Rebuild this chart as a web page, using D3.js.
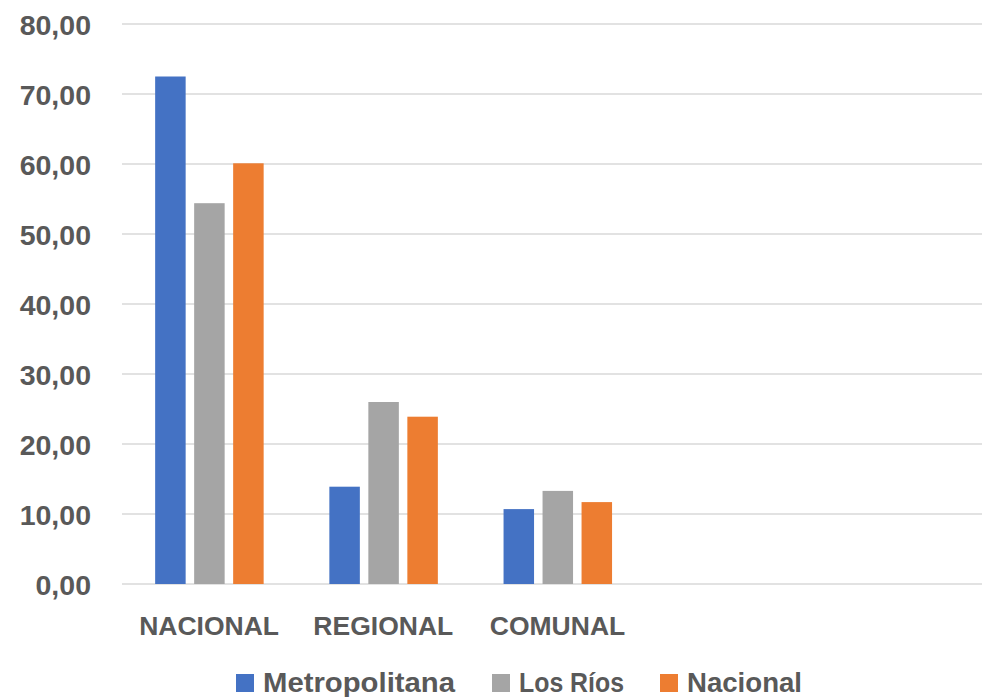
<!DOCTYPE html>
<html><head><meta charset="utf-8">
<script src="https://cdn.jsdelivr.net/npm/d3@7"></script>
<style>html,body{margin:0;padding:0;background:#fff;overflow:hidden}</style>
</head><body>
<svg id="chart" width="982" height="697"></svg>
<script>
const categories = ["NACIONAL", "REGIONAL", "COMUNAL", "", " "];
const seriesNames = ["Metropolitana", "Los Ríos", "Nacional"];
const metropolitana = [72.5, 13.9, 10.7];
const losRios = [54.4, 26.0, 13.3];
const nacional = [60.1, 23.9, 11.7];
const yTicks = [0, 10, 20, 30, 40, 50, 60, 70, 80];
const colors = ["#4472C4", "#A5A5A5", "#ED7D31"];

const values = [metropolitana, losRios, nacional];
const svg = d3.select("#chart");
const fontFam = "'Liberation Sans', Arial, sans-serif";
const textColor = "#595959";

const x = d3.scaleBand().domain(categories).range([122, 993]).paddingInner(0).paddingOuter(0);
const y = d3.scaleLinear().domain([0, 80]).range([584, 24]);
const groupW = 108.5;
const xs = d3.scaleBand().domain(seriesNames).range([0, groupW]).paddingInner(0.218).paddingOuter(0);

// gridlines
svg.append("g").selectAll("line").data(yTicks).join("line")
  .attr("x1", 122).attr("x2", 982)
  .attr("y1", d => y(d)).attr("y2", d => y(d))
  .attr("stroke", "#d9d9d9").attr("stroke-width", 1.5);

// y labels
svg.append("g").selectAll("text").data(yTicks).join("text")
  .attr("x", 91).attr("y", d => y(d) + 10.5)
  .attr("text-anchor", "end")
  .attr("font-family", fontFam).attr("font-weight", "bold").attr("font-size", 28.5)
  .attr("fill", textColor)
  .text(d => d3.format(".2f")(d).replace(".", ","));

// bars
const groupOffset = (x.bandwidth() - groupW) / 2 + 0.3;
seriesNames.forEach((s, i) => {
  svg.append("g").selectAll("rect").data(values[i]).join("rect")
    .attr("x", (d, j) => x(categories[j]) + groupOffset + xs(s))
    .attr("width", xs.bandwidth())
    .attr("y", d => y(d))
    .attr("height", d => y(0) - y(d))
    .attr("fill", colors[i]);
});

// category labels
svg.append("g").selectAll("text").data(categories.slice(0, 3)).join("text")
  .attr("x", d => x(d) + x.bandwidth() / 2)
  .attr("y", 635)
  .attr("text-anchor", "middle")
  .attr("font-family", fontFam).attr("font-weight", "bold").attr("font-size", 26.5)
  .attr("fill", textColor)
  .text(d => d);

// legend
const legendX = [236, 492, 660];
const legendW = [192, 105, 115];
const lg = svg.append("g");
seriesNames.forEach((s, i) => {
  lg.append("rect").attr("x", legendX[i]).attr("y", 674).attr("width", 18).attr("height", 18).attr("fill", colors[i]);
  lg.append("text").attr("x", legendX[i] + 27).attr("y", 692)
    .attr("font-family", fontFam).attr("font-weight", "bold").attr("font-size", 28)
    .attr("textLength", legendW[i]).attr("lengthAdjust", "spacingAndGlyphs")
    .attr("fill", textColor).text(s);
});
</script>
</body></html>
